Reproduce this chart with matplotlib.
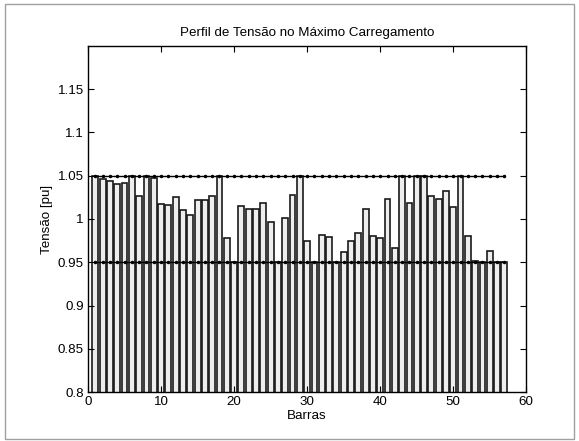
import numpy as np
import matplotlib
matplotlib.use('Agg')
import matplotlib.pyplot as plt
from matplotlib.patches import Rectangle

plt.rcParams['font.family'] = ['Liberation Sans', 'DejaVu Sans']

# Tensão em cada barra (pu) no ponto de máximo carregamento
barras = np.arange(1, 58)
tensao = [
    1.050, 1.046, 1.044, 1.040, 1.042, 1.050, 1.027, 1.050, 1.047, 1.0175,
    1.016, 1.025, 1.0105, 1.004, 1.022, 1.022, 1.026, 1.050, 0.978, 0.950,
    1.0147, 1.012, 1.011, 1.0186, 0.996, 0.950, 1.0006, 1.028, 1.050, 0.975,
    0.950, 0.982, 0.979, 0.950, 0.962, 0.975, 0.9835, 1.0116, 0.980, 0.9775,
    1.0225, 0.967, 1.050, 1.019, 1.050, 1.050, 1.026, 1.0225, 1.032, 1.0136,
    1.050, 0.9806, 0.951, 0.950, 0.963, 0.950, 0.950,
]
v_max = 1.05
v_min = 0.95

fig = plt.figure(figsize=(5.79, 4.41), dpi=100)
fig.patches.append(Rectangle((0.008, 0.005), 0.984, 0.985, transform=fig.transFigure,
                             fill=False, edgecolor='#a0a0a0', linewidth=1.0))
ax = fig.add_axes([0.152, 0.111, 0.757, 0.785])

ax.bar(barras, tensao, width=0.8, color='#eeeeee', edgecolor='#1a1a1a', linewidth=1.2)
ax.plot(barras, [v_max] * len(barras), 'k.-', linewidth=1.0, markersize=3)
ax.plot(barras, [v_min] * len(barras), 'k.-', linewidth=1.0, markersize=3)

ax.set_xlim(0, 60)
ax.set_ylim(0.8, 1.2)
ax.set_xticks(np.arange(0, 61, 10))
ax.set_yticks(np.arange(0.8, 1.151, 0.05))
ax.set_yticklabels(['0.8', '0.85', '0.9', '0.95', '1', '1.05', '1.1', '1.15'])
ax.tick_params(direction='in', top=True, right=True, length=4, labelsize=9.6, width=0.8, pad=3)
for s in ax.spines.values():
    s.set_linewidth(1.0)

ax.set_title('Perfil de Tensão no Máximo Carregamento', fontsize=9.6, pad=7)
ax.set_xlabel('Barras', fontsize=9.6, labelpad=1.5)
ax.set_ylabel('Tensão [pu]', fontsize=9.6, labelpad=3)

plt.savefig('out.png', dpi=100)
